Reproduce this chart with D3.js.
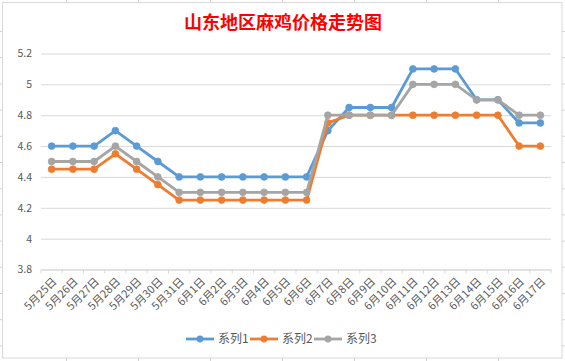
<!DOCTYPE html>
<html><head><meta charset="utf-8">
<script src="https://cdn.jsdelivr.net/npm/d3@7"></script>
<style>
body{margin:0;background:#fff;}
svg{display:block;}
text{font-family:"Noto Sans CJK SC","Noto Sans",sans-serif;}
</style></head>
<body>
<svg id="c" width="565" height="361"></svg>
<script>
const title = "山东地区麻鸡价格走势图";
const categories = ["5月25日","5月26日","5月27日","5月28日","5月29日","5月30日","5月31日",
  "6月1日","6月2日","6月3日","6月4日","6月5日","6月6日","6月7日","6月8日","6月9日","6月10日",
  "6月11日","6月12日","6月13日","6月14日","6月15日","6月16日","6月17日"];
const seriesNames = ["系列1","系列2","系列3"];
const series1 = [4.6,4.6,4.6,4.7,4.6,4.5,4.4,4.4,4.4,4.4,4.4,4.4,4.4,4.7,4.85,4.85,4.85,5.1,5.1,5.1,4.9,4.9,4.75,4.75];
const series2 = [4.45,4.45,4.45,4.55,4.45,4.35,4.25,4.25,4.25,4.25,4.25,4.25,4.25,4.75,4.8,4.8,4.8,4.8,4.8,4.8,4.8,4.8,4.6,4.6];
const series3 = [4.5,4.5,4.5,4.6,4.5,4.4,4.3,4.3,4.3,4.3,4.3,4.3,4.3,4.8,4.8,4.8,4.8,5.0,5.0,5.0,4.9,4.9,4.8,4.8];
const yTicks = [3.8,4,4.2,4.4,4.6,4.8,5,5.2];
const colors = ["#5B9BD5","#ED7D31","#A5A5A5"];

const svg = d3.select("#c");
const pL = 41, pR = 551, pT = 53.5, pB = 269.5;

// spreadsheet cell grid fragments outside the chart
const g0 = svg.append("g").attr("stroke","#d4d4d4").attr("stroke-width",1);
const colX = d3.range(7).map(i => 66.5 + 72*i);
colX.forEach(xx => {
  g0.append("line").attr("x1",xx).attr("x2",xx).attr("y1",0).attr("y2",2.5);
  g0.append("line").attr("x1",xx).attr("x2",xx).attr("y1",358).attr("y2",361);
});
const rowY = d3.range(13).map(i => 31.5 + 26.2*i);
rowY.forEach(yy => {
  g0.append("line").attr("x1",0).attr("x2",2.5).attr("y1",yy).attr("y2",yy);
  g0.append("line").attr("x1",562).attr("x2",565).attr("y1",yy).attr("y2",yy);
});
svg.append("rect").attr("x",2.5).attr("y",2.5).attr("width",559.5).attr("height",355.5)
  .attr("fill","#fff").attr("stroke","#d9d9d9").attr("stroke-width",1);

// title
svg.append("text").attr("x",283).attr("y",29).attr("text-anchor","middle")
  .attr("fill","#FF0000").attr("font-size",18).attr("font-weight","bold").text(title);

const x = d3.scaleBand().domain(categories).range([pL,pR]);
const y = d3.scaleLinear().domain([3.8,5.2]).range([pB,pT]);

// y axis with gridlines
const yAxis = d3.axisLeft(y).tickValues(yTicks).tickSize(-(pR-pL)).tickPadding(9)
  .tickFormat(d => String(+d.toFixed(1)));
const gy = svg.append("g").attr("transform",`translate(${pL},0)`).call(yAxis);
gy.select(".domain").remove();
gy.selectAll(".tick line").attr("stroke","#d9d9d9").attr("stroke-width",1);
gy.selectAll(".tick text").attr("fill","#595959").attr("font-size",10.5).attr("font-family","'Open Sans','Noto Sans',sans-serif");

// x axis
const xAxis = d3.axisBottom(x).tickSize(0).tickFormat("");
const gx = svg.append("g").attr("transform",`translate(0,${pB})`).call(xAxis);
gx.select(".domain").attr("stroke","#d9d9d9").attr("stroke-width",1);
const bounds = categories.map(c => x(c)).concat([pR]);
gx.selectAll("line.bt").data(bounds).enter().append("line").attr("class","bt")
  .attr("x1",d=>d).attr("x2",d=>d).attr("y1",0).attr("y2",4)
  .attr("stroke","#d9d9d9").attr("stroke-width",1);
svg.append("g").selectAll("text").data(categories).enter().append("text")
  .attr("transform", d => `translate(${x(d)+x.bandwidth()/2+3},${pB+10}) rotate(-45)`)
  .attr("text-anchor","end").attr("dy","0.35em")
  .attr("fill","#595959").attr("font-size",11).text(d => d);

// series
const data = [series1, series2, series3];
const cx = (i) => x(categories[i]) + x.bandwidth()/2;
const line = d3.line().x((d,i) => cx(i)).y(d => y(d));
data.forEach((s, k) => {
  const g = svg.append("g");
  g.append("path").datum(s).attr("d", line).attr("fill","none")
    .attr("stroke", colors[k]).attr("stroke-width",2.8).attr("stroke-linejoin","round");
  g.selectAll("circle").data(s).enter().append("circle")
    .attr("cx",(d,i) => cx(i)).attr("cy", d => y(d))
    .attr("r",3.4).attr("fill",colors[k]).attr("stroke",colors[k]).attr("stroke-width",0.8);
});

// legend
const legY = 339;
const lg = svg.append("g");
seriesNames.forEach((n, k) => {
  const x0 = 186 + 64*k;
  lg.append("line").attr("x1",x0).attr("x2",x0+28).attr("y1",legY).attr("y2",legY)
    .attr("stroke",colors[k]).attr("stroke-width",2.8);
  lg.append("circle").attr("cx",x0+14).attr("cy",legY).attr("r",3.4).attr("fill",colors[k]);
  lg.append("text").attr("x",x0+32).attr("y",legY).attr("dy","0.36em")
    .attr("fill","#595959").attr("font-size",12).text(n);
});
</script>
</body></html>
